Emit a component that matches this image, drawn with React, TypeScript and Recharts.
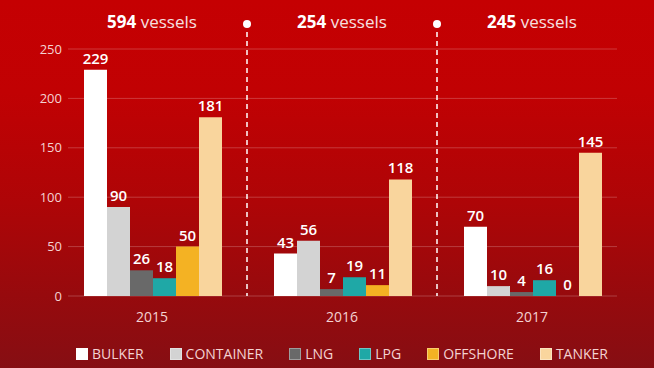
import { BarChart, Bar, XAxis, YAxis, CartesianGrid, ReferenceLine, LabelList } from 'recharts'

const years = ['2015', '2016', '2017']
const totals = [594, 254, 245]
const bulker = [229, 43, 70]
const container = [90, 56, 10]
const lng = [26, 7, 4]
const lpg = [18, 19, 16]
const offshore = [50, 11, 0]
const tanker = [181, 118, 145]
const yTicks = [0, 50, 100, 150, 200, 250]

const series = [
  { key: 'bulker', name: 'BULKER', color: '#ffffff', values: bulker },
  { key: 'container', name: 'CONTAINER', color: '#d3d3d3', values: container },
  { key: 'lng', name: 'LNG', color: '#696969', values: lng },
  { key: 'lpg', name: 'LPG', color: '#1fa8a6', values: lpg },
  { key: 'offshore', name: 'OFFSHORE', color: '#f4b223', values: offshore },
  { key: 'tanker', name: 'TANKER', color: '#f9d59d', values: tanker },
]

const data = years.map((year, i) => {
  const row: Record<string, string | number> = { year }
  series.forEach(s => { row[s.key] = s.values[i] })
  return row
})

const font = '"Open Sans", sans-serif'
const pale = '#f4d2d2'

// dashed divider between years, with the little dot on top
function Divider(props: any) {
  const top = Math.min(props.y1, props.y2)
  const bottom = Math.max(props.y1, props.y2)
  return (
    <g>
      <line x1={props.x1} x2={props.x1} y1={top - 17} y2={bottom} stroke="#fff" strokeWidth={1.5} strokeDasharray="5 4" />
      <circle cx={props.x1} cy={top - 25} r={4} fill="#fff" />
    </g>
  )
}

function GridLine(p: any) {
  return <line key={p.index} x1={p.x1 + 11} x2={p.x2 - 10} y1={p.y1} y2={p.y2} stroke="rgba(255,255,255,0.22)" strokeWidth={1} />
}

export default function App() {
  return (
    <div
      style={{
        position: 'absolute', left: 0, top: 0, width: 654, height: 368, fontFamily: font,
        background: 'linear-gradient(to bottom, #c50002 0%, #c10103 25%, #ae0507 55%, #970a0d 80%, #860e13 100%)',
      }}
    >
      <BarChart width={654} height={368} data={data} margin={{ top: 0, right: 27, left: 0, bottom: 0 }} barCategoryGap={27} barGap={0}>
        <CartesianGrid vertical={false} horizontal={GridLine} />
        <XAxis
          xAxisId="top"
          orientation="top"
          dataKey="year"
          height={49}
          axisLine={false}
          tickLine={false}
          tick={(p: any) => (
            <text x={p.x} y={28} textAnchor="middle" fill="#fff" fontSize={17} fontFamily={font}>
              <tspan fontWeight={700}>{totals[p.index]}</tspan>
              <tspan fill="#f7e0e0"> vessels</tspan>
            </text>
          )}
        />
        <XAxis
          dataKey="year"
          height={72}
          axisLine={false}
          tickLine={false}
          tick={(p: any) => (
            <text x={p.x} y={322} textAnchor="middle" fill={pale} fontSize={14} fontFamily={font}>{p.payload.value}</text>
          )}
        />
        <YAxis
          width={57}
          domain={[0, 250]}
          ticks={yTicks}
          axisLine={false}
          tickLine={false}
          tick={(p: any) => (
            <text x={62} y={p.y} dy={4.5} textAnchor="end" fill={pale} fontSize={13} fontFamily={font}>{p.payload.value}</text>
          )}
        />
        {series.map(s => (
          <Bar key={s.key} dataKey={s.key} fill={s.color} minPointSize={0.01} isAnimationActive={false}>
            <LabelList dataKey={s.key} position="top" offset={6} fill="#fff" fontSize={15} fontWeight={600} fontFamily={font} />
          </Bar>
        ))}
        <ReferenceLine x="2016" position="start" shape={Divider} />
        <ReferenceLine x="2017" position="start" shape={Divider} />
      </BarChart>
      <div
        style={{
          position: 'absolute', left: 57, top: 345, width: 570, display: 'flex', justifyContent: 'center',
          gap: 26, color: pale, fontSize: 14, lineHeight: '18px',
        }}
      >
        {series.map(s => (
          <div key={s.key} style={{ display: 'flex', alignItems: 'center' }}>
            <span style={{ width: 10, height: 10, background: s.color, border: '1px solid rgba(255,255,255,0.35)', marginRight: 4 }} />
            <span>{s.name}</span>
          </div>
        ))}
      </div>
    </div>
  )
}
